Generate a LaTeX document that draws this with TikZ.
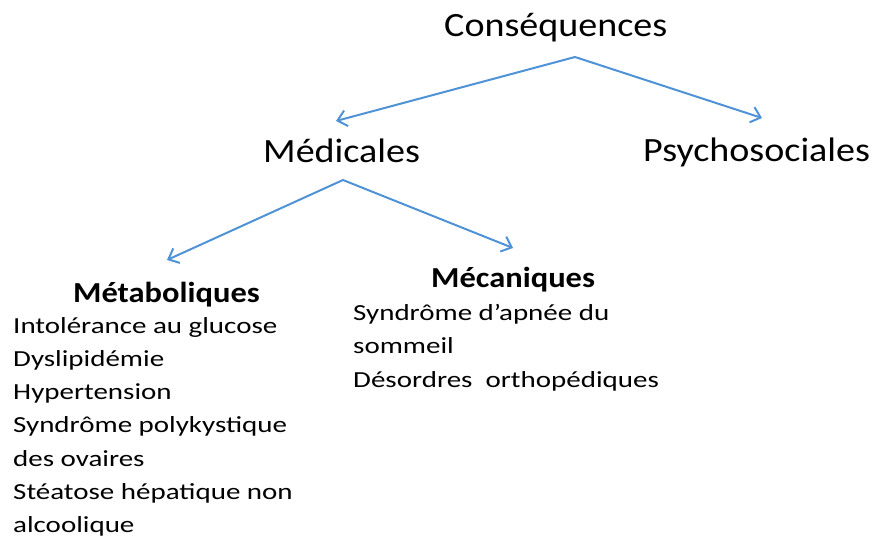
\documentclass[tikz,border=0pt]{standalone}
\usepackage{fontspec}
\setmainfont{Carlito}[FakeStretch=1.12]
\newfontfamily\listfont{Carlito}[FakeStretch=1.26]
\usetikzlibrary{arrows.meta}
\definecolor{arrowblue}{RGB}{79,146,214}
\tikzset{
  lvl/.style={anchor=base west, inner sep=0pt, font=\fontsize{34}{40}\selectfont},
  sub/.style={anchor=base west, inner sep=0pt, font=\fontsize{29}{34}\selectfont\bfseries},
  item/.style={anchor=base west, inner sep=0pt, font=\listfont\fontsize{23}{28}\selectfont},
  arr/.style={draw=arrowblue, line width=2pt, -{Straight Barb[length=9pt,width=16pt,line width=2pt]}}
}
\begin{document}
\begin{tikzpicture}[x=1pt,y=-1pt]
\useasboundingbox (0,0) rectangle (875,540);
\node[lvl] (cons) at (444,37) {Conséquences};
\node[lvl] (med) at (263,163) {Médicales};
\node[lvl] (psy) at (643,162) {Psychosociales};
\node[sub] (meta) at (73,302) {Métaboliques};
\node[sub] (meca) at (431,287) {Mécaniques};
\node[item] (m1) at (13,333) {Intolérance au glucose};
\node[item] (m2) at (13,366.3) {Dyslipidémie};
\node[item] (m3) at (13,399.6) {Hypertension};
\node[item] (m4) at (13,432.9) {Syndrôme polykystique};
\node[item] (m5) at (13,466.2) {des ovaires};
\node[item] (m6) at (13,499.5) {Stéatose hépatique non};
\node[item] (m7) at (13,532.5) {alcoolique};
\node[item] (k1) at (353,320) {Syndrôme d’apnée\ du};
\node[item] (k2) at (353,353) {sommeil};
\node[item] (k3) at (353,387) {Désordres\ \ orthopédiques};
\coordinate (consJ) at (575,57);
\coordinate (medJ) at (343,180);
\coordinate (medT) at (336,121);
\coordinate (psyT) at (762,118);
\coordinate (metaT) at (167,260);
\coordinate (mecaT) at (513,248);
\draw[arr] (consJ) -- (medT);
\draw[arr] (consJ) -- (psyT);
\draw[arr] (medJ) -- (metaT);
\draw[arr] (medJ) -- (mecaT);
\end{tikzpicture}
\end{document}
